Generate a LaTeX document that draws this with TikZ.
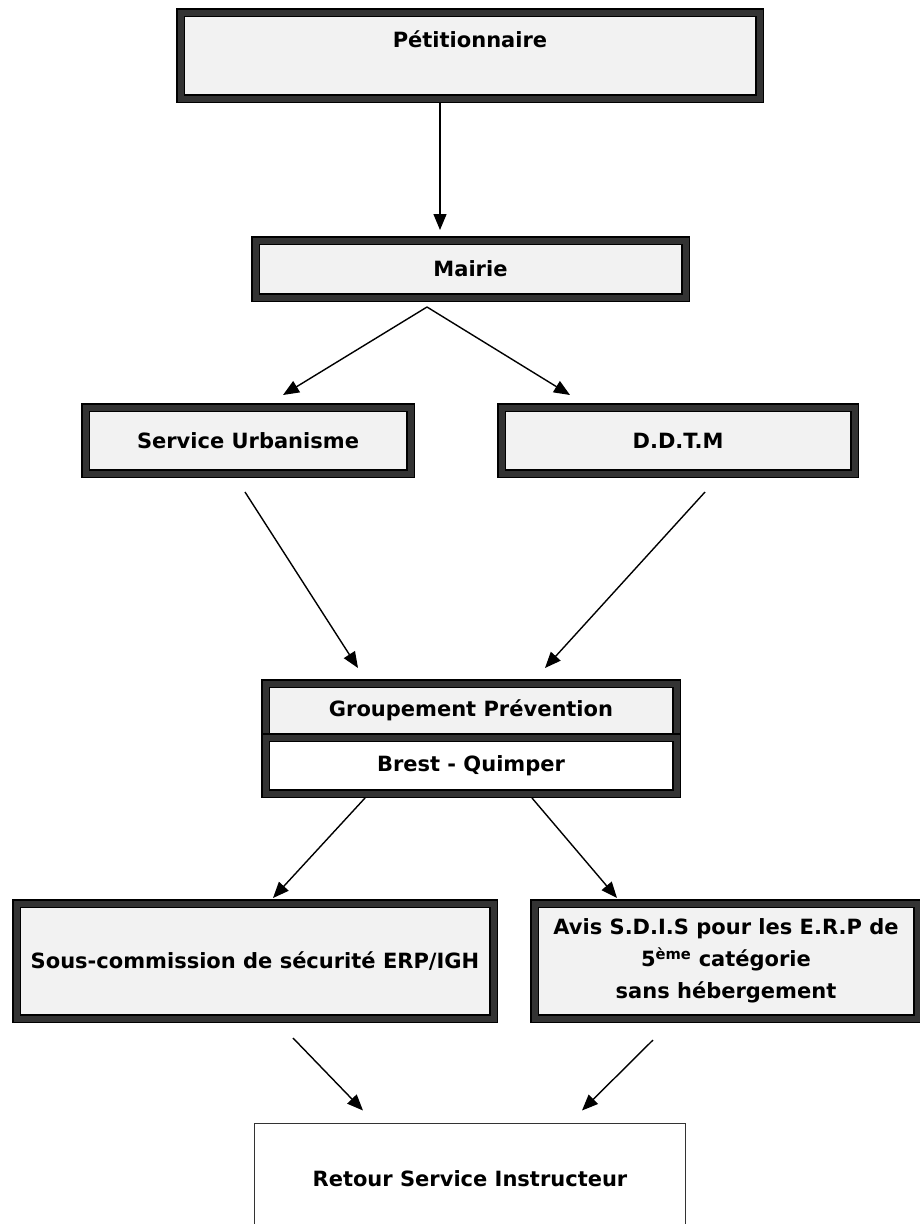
\documentclass[tikz,border=0pt]{standalone}
\usepackage{fontspec}
\setsansfont{DejaVu Sans}
\usetikzlibrary{positioning, arrows.meta, calc}

\begin{document}
\begin{tikzpicture}[
        x=1pt, y=-1pt,
        font=\sffamily\bfseries\fontsize{21}{32}\selectfont,
        >={Triangle[length=16pt, width=13pt]},
        fleche/.style={->, line width=1.4pt},
        cadre_box/.style={draw=black, line width=1.5pt, double=black!80, double distance=6pt, fill=black!5, outer sep=0pt, inner sep=0pt, align=center},
        simple_box/.style={draw=black!80, line width=1.2pt, fill=white, outer sep=0pt, inner sep=0pt, align=center}
    ]

    % ========================================================
    % 0. CADRE DE LA PAGE
    % ========================================================
    \clip (0,0) rectangle (920,1224);
    \fill[white] (0,0) rectangle (920,1224);

    % ========================================================
    % 1. DEPOT DU DOSSIER (HAUT)
    % ========================================================
    \node[cadre_box, minimum width=579, minimum height=86] (petit) at (470,55.5) {Pétitionnaire\\ \mbox{}};
    \node[cadre_box, minimum width=430, minimum height=57] (mairie) at (470.5,269) {Mairie};

    % Panah
    \draw[fleche] ([xshift=-30, yshift=-4.5]petit.south) -- ([xshift=-30.5, yshift=10.5]mairie.north);

    % ========================================================
    % 2. SERVICES INSTRUCTEURS
    % ========================================================
    \node[cadre_box, minimum width=325, minimum height=66] (urba) at (248,440.5) {Service Urbanisme};
    \node[cadre_box, minimum width=353, minimum height=66] (ddtm) at (678,440.5) {D.D.T.M};

    \coordinate (sommet) at ([xshift=-43.5, yshift=-9.5]mairie.south);
    \draw[fleche] (sommet) -- ([xshift=35, yshift=12.5]urba.north);
    \draw[fleche] (sommet) -- ([xshift=-108, yshift=12.5]ddtm.north);

    % ========================================================
    % 3. GROUPEMENT PREVENTION
    % ========================================================
    \node[cadre_box, minimum width=411, minimum height=54] (grp) at (471,710.5) {Groupement Prévention};
    \node[cadre_box, fill=white, minimum width=411, minimum height=56] (bq) at (471,765.5) {Brest - Quimper};

    \draw[fleche] ([xshift=-3, yshift=-18.5]urba.south) -- ([xshift=-113, yshift=15.5]grp.north);
    \draw[fleche] ([xshift=27, yshift=-18.5]ddtm.south) -- ([xshift=74, yshift=15.5]grp.north);

    % ========================================================
    % 4. AVIS
    % ========================================================
    \node[cadre_box, minimum width=477, minimum height=115] (sc) at (255,961) {Sous-commission de sécurité ERP/IGH};
    \node[cadre_box, minimum width=383, minimum height=115] (avis) at (726,961) {Avis S.D.I.S pour les E.R.P de\\5\textsuperscript{ème} catégorie\\sans hébergement};

    \draw[fleche] ([xshift=-106, yshift=-4.5]bq.south) -- ([xshift=18, yshift=5.5]sc.north);
    \draw[fleche] ([xshift=61, yshift=-4.5]bq.south) -- ([xshift=-109, yshift=5.5]avis.north);

    % ========================================================
    % 5. RETOUR (BAS)
    % ========================================================
    \node[simple_box, minimum width=431, minimum height=111] (retour) at (470,1179) {Retour Service Instructeur};

    \draw[fleche] ([xshift=38, yshift=-19.5]sc.south) -- ([xshift=-107, yshift=13]retour.north);
    \draw[fleche] ([xshift=-73, yshift=-21.5]avis.south) -- ([xshift=112, yshift=13]retour.north);

\end{tikzpicture}
\end{document}
